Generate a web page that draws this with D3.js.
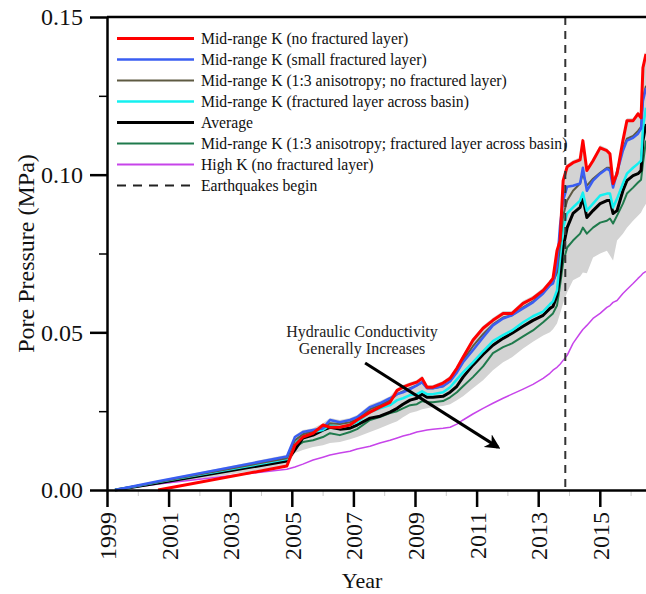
<!DOCTYPE html>
<html>
<head>
<meta charset="utf-8">
<script src="https://cdn.jsdelivr.net/npm/d3@7/dist/d3.min.js"></script>
<style>
  html, body { margin: 0; padding: 0; background: #fff; }
  svg { display: block; font-family: "Liberation Serif", "Times New Roman", serif; }
</style>
</head>
<body>
<svg id="chart" width="646" height="594"></svg>
<script>
// ---------------- DATA ----------------
const years = [1999.26, 2000.66, 2004.84, 2005.10, 2005.36, 2005.69, 2006.01, 2006.24, 2006.56, 2006.89,
  2007.12, 2007.54, 2007.86, 2008.19, 2008.42, 2008.61, 2008.84, 2009.06, 2009.23, 2009.39,
  2009.58, 2009.91, 2010.14, 2010.36, 2010.56, 2010.88, 2011.21, 2011.53, 2011.86, 2012.15,
  2012.51, 2012.83, 2013.16, 2013.38, 2013.48, 2013.61, 2013.71, 2013.81, 2013.94, 2014.13,
  2014.36, 2014.45, 2014.58, 2014.78, 2015.01, 2015.23, 2015.33, 2015.43, 2015.56, 2015.75,
  2015.88, 2016.08, 2016.24, 2016.34, 2016.40, 2016.50];

const midNoFrac = [null, 0, 0.0076, 0.0142, 0.0168, 0.0180, 0.0206, 0.0199, 0.0199, 0.0206,
  0.0222, 0.0247, 0.0263, 0.0278, 0.0316, 0.0326, 0.0335, 0.0342, 0.0354, 0.0326,
  0.0326, 0.0339, 0.0354, 0.0386, 0.0421, 0.0475, 0.0513, 0.0538, 0.0560, 0.0560,
  0.0592, 0.0608, 0.0633, 0.0658, 0.0671, 0.0759, 0.0791, 0.0981, 0.1025, 0.1038,
  0.1047, 0.1108, 0.1013, 0.1044, 0.1085, 0.1076, 0.1066, 0.0972, 0.1003, 0.1108,
  0.1171, 0.1171, 0.1193, 0.1180, 0.1339, 0.1383];

const midSmallFrac = [0, 0.0028, 0.0106, 0.0168, 0.0184, 0.0190, 0.0196, 0.0222, 0.0215, 0.0222,
  0.0231, 0.0263, 0.0275, 0.0291, 0.0304, 0.0310, 0.0320, 0.0332, 0.0342, 0.0323,
  0.0323, 0.0329, 0.0345, 0.0373, 0.0405, 0.0443, 0.0484, 0.0522, 0.0544, 0.0554,
  0.0576, 0.0595, 0.0623, 0.0649, 0.0655, 0.0712, 0.0839, 0.0918, 0.0962, 0.0965,
  0.0972, 0.1022, 0.0949, 0.0981, 0.1003, 0.1019, 0.1013, 0.0959, 0.1006, 0.1076,
  0.1108, 0.1117, 0.1130, 0.1146, 0.1234, 0.1275];

const midAnisoNoFrac = [0, 0.0025, 0.0101, 0.0158, 0.0177, 0.0187, 0.0196, 0.0212, 0.0209, 0.0215,
  0.0225, 0.0256, 0.0269, 0.0285, 0.0304, 0.0313, 0.0323, 0.0332, 0.0342, 0.0323,
  0.0323, 0.0329, 0.0345, 0.0377, 0.0411, 0.0456, 0.0494, 0.0525, 0.0547, 0.0554,
  0.0579, 0.0598, 0.0627, 0.0649, 0.0658, 0.0690, 0.0775, 0.0870, 0.0918, 0.0949,
  0.0972, 0.1003, 0.0965, 0.0987, 0.1006, 0.1022, 0.1022, 0.0965, 0.1013, 0.1082,
  0.1114, 0.1123, 0.1139, 0.1152, 0.1241, 0.1282];

const midFracBasin = [0, 0.0025, 0.0098, 0.0152, 0.0174, 0.0184, 0.0190, 0.0206, 0.0199, 0.0206,
  0.0215, 0.0247, 0.0259, 0.0269, 0.0285, 0.0291, 0.0301, 0.0304, 0.0313, 0.0304,
  0.0304, 0.0310, 0.0326, 0.0351, 0.0373, 0.0405, 0.0440, 0.0472, 0.0491, 0.0506,
  0.0532, 0.0551, 0.0566, 0.0589, 0.0598, 0.0633, 0.0737, 0.0832, 0.0877, 0.0896,
  0.0918, 0.0943, 0.0886, 0.0908, 0.0934, 0.0940, 0.0940, 0.0896, 0.0924, 0.0972,
  0.1003, 0.1022, 0.1035, 0.1044, 0.1149, 0.1212];

const average = [0, 0.0022, 0.0092, 0.0127, 0.0165, 0.0174, 0.0190, 0.0199, 0.0193, 0.0196,
  0.0206, 0.0228, 0.0234, 0.0247, 0.0259, 0.0272, 0.0285, 0.0291, 0.0304, 0.0294,
  0.0294, 0.0297, 0.0310, 0.0329, 0.0358, 0.0396, 0.0430, 0.0459, 0.0481, 0.0497,
  0.0519, 0.0538, 0.0554, 0.0576, 0.0582, 0.0617, 0.0680, 0.0769, 0.0832, 0.0877,
  0.0896, 0.0927, 0.0864, 0.0886, 0.0908, 0.0918, 0.0918, 0.0877, 0.0886, 0.0949,
  0.0981, 0.0997, 0.1003, 0.1013, 0.1108, 0.1161];

const midAnisoFracBasin = [0, 0.0025, 0.0098, 0.0136, 0.0152, 0.0158, 0.0168, 0.0180, 0.0174, 0.0184,
  0.0193, 0.0222, 0.0231, 0.0244, 0.0250, 0.0259, 0.0269, 0.0272, 0.0282, 0.0278,
  0.0278, 0.0282, 0.0294, 0.0310, 0.0329, 0.0358, 0.0392, 0.0434, 0.0453, 0.0465,
  0.0487, 0.0506, 0.0532, 0.0551, 0.0560, 0.0585, 0.0649, 0.0722, 0.0769, 0.0791,
  0.0813, 0.0832, 0.0813, 0.0832, 0.0848, 0.0854, 0.0861, 0.0845, 0.0870, 0.0908,
  0.0940, 0.0959, 0.0975, 0.0984, 0.1035, 0.1108];

const highKNoFrac = [0, 0.0019, 0.0066, 0.0073, 0.0082, 0.0095, 0.0104, 0.0111, 0.0117, 0.0123,
  0.0130, 0.0139, 0.0149, 0.0158, 0.0165, 0.0171, 0.0177, 0.0184, 0.0187, 0.0190,
  0.0193, 0.0196, 0.0199, 0.0209, 0.0222, 0.0241, 0.0259, 0.0275, 0.0291, 0.0304,
  0.0320, 0.0335, 0.0354, 0.0370, 0.0380, 0.0389, 0.0399, 0.0411, 0.0427, 0.0465,
  0.0497, 0.0509, 0.0522, 0.0544, 0.0560, 0.0579, 0.0585, 0.0595, 0.0601, 0.0623,
  0.0636, 0.0655, 0.0671, 0.0680, 0.0687, 0.0693];

const bandLow = [0, 0.0016, 0.0076, 0.0117, 0.0127, 0.0136, 0.0142, 0.0149, 0.0152, 0.0161,
  0.0168, 0.0184, 0.0196, 0.0209, 0.0218, 0.0231, 0.0244, 0.0250, 0.0256, 0.0259,
  0.0263, 0.0266, 0.0272, 0.0285, 0.0297, 0.0323, 0.0348, 0.0380, 0.0405, 0.0421,
  0.0449, 0.0470, 0.0490, 0.0500, 0.0510, 0.0528, 0.0560, 0.0592, 0.0627, 0.0665,
  0.0677, 0.0690, 0.0687, 0.0737, 0.0750, 0.0759, 0.0744, 0.0728, 0.0791, 0.0813,
  0.0832, 0.0854, 0.0870, 0.0880, 0.0892, 0.0908];

const bandHigh = [0, 0.0030, 0.0112, 0.0174, 0.0190, 0.0196, 0.0212, 0.0228, 0.0222, 0.0228,
  0.0238, 0.0270, 0.0282, 0.0297, 0.0323, 0.0333, 0.0342, 0.0349, 0.0362, 0.0333,
  0.0333, 0.0346, 0.0362, 0.0393, 0.0429, 0.0483, 0.0521, 0.0546, 0.0568, 0.0568,
  0.0600, 0.0616, 0.0641, 0.0666, 0.0679, 0.0767, 0.0800, 0.0990, 0.1033, 0.1046,
  0.1055, 0.1116, 0.1021, 0.1052, 0.1093, 0.1084, 0.1074, 0.0980, 0.1011, 0.1116,
  0.1179, 0.1179, 0.1201, 0.1188, 0.1347, 0.1391];

const earthquakeYear = 2013.88;

const xTicks = [1999, 2001, 2003, 2005, 2007, 2009, 2011, 2013, 2015];
const xMinorTicks = [2000, 2002, 2004, 2006, 2008, 2010, 2012, 2014, 2016];
const yTicks = [0, 0.05, 0.10, 0.15];
const yMinorTicks = [0.025, 0.075, 0.125];

const seriesNames = [
  "Mid-range K (no fractured layer)",
  "Mid-range K (small fractured layer)",
  "Mid-range K (1:3 anisotropy; no fractured layer)",
  "Mid-range K (fractured layer across basin)",
  "Average",
  "Mid-range K (1:3 anisotropy; fractured layer across basin)",
  "High K (no fractured layer)"
];
const seriesValues = [midNoFrac, midSmallFrac, midAnisoNoFrac, midFracBasin, average, midAnisoFracBasin, highKNoFrac];
const seriesColors = ["#ff0000", "#3a5ef2", "#5e5a42", "#14f0f0", "#000000", "#1f7a4c", "#c744ea"];
const seriesWidths = [3, 2.5, 2, 2.5, 3, 2, 1.5];
const quakeLabel = "Earthquakes begin";

// ---------------- CHART ----------------
const svg = d3.select("#chart");
const font = '"Liberation Serif", "Times New Roman", serif';

const x = d3.scaleLinear().domain([1999, 2016.5]).range([107, 646]);
const y = d3.scaleLinear().domain([0, 0.15]).range([490, 17]);

// gray band
const bandData = years.map((yr, i) => ({ yr, lo: bandLow[i], hi: bandHigh[i] }));
svg.append("path")
  .datum(bandData)
  .attr("fill", "#d3d3d3")
  .attr("d", d3.area().x(d => x(d.yr)).y0(d => y(d.lo)).y1(d => y(d.hi)));

// lines (draw in reverse so red is on top)
const line = d3.line()
  .defined(d => d.v !== null)
  .x(d => x(d.yr)).y(d => y(d.v));

for (let s = seriesValues.length - 1; s >= 0; s--) {
  const data = years.map((yr, i) => ({ yr, v: seriesValues[s][i] }));
  svg.append("path")
    .datum(data)
    .attr("fill", "none")
    .attr("stroke", seriesColors[s])
    .attr("stroke-width", seriesWidths[s])
    .attr("stroke-linejoin", "round")
    .attr("d", line);
}

// earthquake dashed line
svg.append("line")
  .attr("x1", x(earthquakeYear)).attr("x2", x(earthquakeYear))
  .attr("y1", y(0.15)).attr("y2", y(0))
  .attr("stroke", "#333").attr("stroke-width", 2)
  .attr("stroke-dasharray", "8,6");

// minor ticks
const xMinor = svg.append("g").attr("transform", `translate(0,${y(0)})`)
  .call(d3.axisBottom(x).tickValues(xMinorTicks).tickSize(6).tickSizeOuter(0).tickFormat(""));
xMinor.select(".domain").remove();
xMinor.selectAll("line").attr("stroke", "#ccc").attr("stroke-width", 1);

const yMinor = svg.append("g").attr("transform", `translate(${x(1999)},0)`)
  .call(d3.axisLeft(y).tickValues(yMinorTicks).tickSize(8).tickSizeOuter(0).tickFormat(""));
yMinor.select(".domain").remove();
yMinor.selectAll("line").attr("stroke", "#000").attr("stroke-width", 1.5);

// x axis
const xAxis = svg.append("g").attr("transform", `translate(0,${y(0)})`)
  .call(d3.axisBottom(x).tickValues(xTicks).tickSize(17).tickSizeOuter(0).tickFormat(d3.format("d")));
xAxis.select(".domain").attr("stroke-width", 2.5);
xAxis.selectAll(".tick line").attr("stroke-width", 2.5);
xAxis.selectAll(".tick text")
  .attr("transform", "rotate(-90)")
  .attr("x", -22).attr("y", 0).attr("dy", "0.35em")
  .attr("text-anchor", "end")
  .style("font-family", font).style("font-size", "24px").attr("fill", "#111");

// y axis
const yAxis = svg.append("g").attr("transform", `translate(${x(1999)},0)`)
  .call(d3.axisLeft(y).tickValues(yTicks).tickSize(17).tickSizeOuter(0).tickFormat(d3.format(".2f")));
yAxis.select(".domain").attr("stroke-width", 2.5);
yAxis.selectAll(".tick line").attr("stroke-width", 2.5);
yAxis.selectAll(".tick text")
  .attr("x", -24)
  .style("font-family", font).style("font-size", "24px").attr("fill", "#111");

// top border
svg.append("line")
  .attr("x1", x(1999)).attr("x2", 646)
  .attr("y1", y(0.15)).attr("y2", y(0.15))
  .attr("stroke", "#000").attr("stroke-width", 2.5);

// axis titles
svg.append("text")
  .attr("x", 362).attr("y", 588)
  .attr("text-anchor", "middle")
  .style("font-family", font).style("font-size", "22px").attr("fill", "#111")
  .text("Year");

svg.append("text")
  .attr("transform", `translate(34,${(y(0) + y(0.15)) / 2}) rotate(-90)`)
  .attr("text-anchor", "middle")
  .style("font-family", font).style("font-size", "24px").attr("fill", "#111")
  .text("Pore Pressure (MPa)");

// legend
const legend = svg.append("g");
const legendItems = seriesNames.map((n, i) => ({ name: n, color: seriesColors[i], width: seriesWidths[i], dash: null }));
legendItems.push({ name: quakeLabel, color: "#222", width: 1.8, dash: "9,7" });
legendItems.forEach((it, i) => {
  const ly = 38.5 + i * 21;
  legend.append("line")
    .attr("x1", 117).attr("x2", 194).attr("y1", ly).attr("y2", ly)
    .attr("stroke", it.color).attr("stroke-width", Math.max(it.width, 2))
    .attr("stroke-dasharray", it.dash);
  legend.append("text")
    .attr("x", 201).attr("y", ly).attr("dy", "0.35em")
    .style("font-family", font).style("font-size", "15.7px").attr("fill", "#111")
    .text(it.name);
});

// annotation
svg.append("defs").append("marker")
  .attr("id", "arrowhead").attr("viewBox", "0 0 10 10")
  .attr("refX", 8).attr("refY", 5)
  .attr("markerWidth", 5).attr("markerHeight", 5)
  .attr("orient", "auto")
  .append("path").attr("d", "M0,0 L10,5 L0,10 L3,5 Z").attr("fill", "#000");

svg.append("line")
  .attr("x1", x(2007.38)).attr("y1", y(0.0403))
  .attr("x2", x(2011.69)).attr("y2", y(0.0136))
  .attr("stroke", "#000").attr("stroke-width", 3)
  .attr("marker-end", "url(#arrowhead)");

const ann = svg.append("text")
  .attr("text-anchor", "middle")
  .style("font-family", font).style("font-size", "16px").attr("fill", "#222");
ann.append("tspan").attr("x", x(2007.28)).attr("y", 337).text("Hydraulic Conductivity");
ann.append("tspan").attr("x", x(2007.28)).attr("y", 354).text("Generally Increases");
</script>
</body>
</html>
